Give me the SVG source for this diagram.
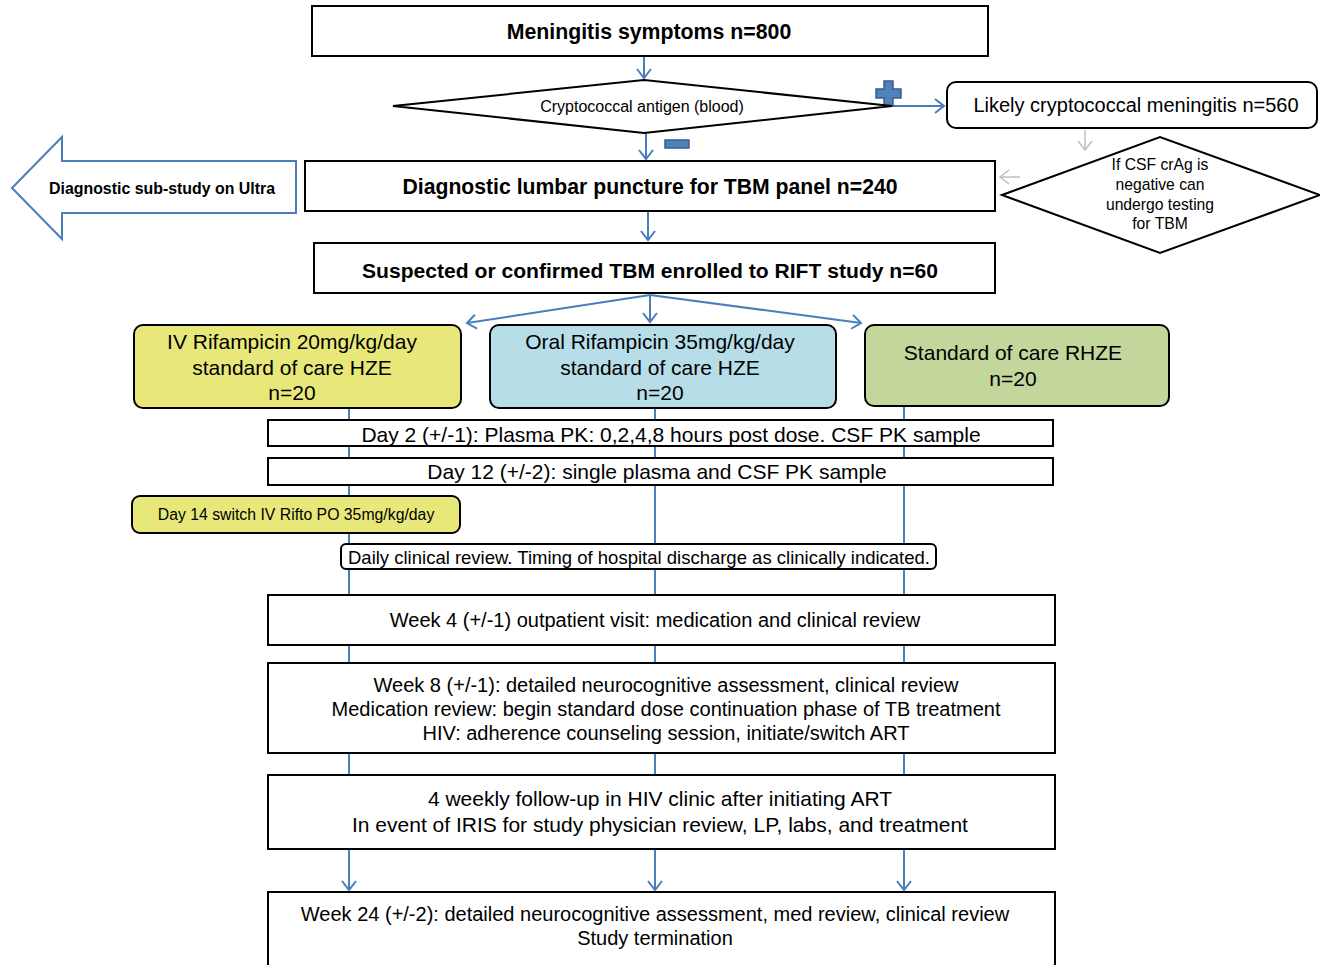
<svg xmlns="http://www.w3.org/2000/svg" width="1320" height="965" viewBox="0 0 1320 965">
<style>
.box{fill:#fff;stroke:#000;stroke-width:2}
.t{font-family:"Liberation Sans",Arial,sans-serif;fill:#000;text-anchor:middle;dominant-baseline:central}
.b{font-weight:bold}
.c{stroke:#4a7ebb;stroke-width:2;fill:none}
.g{stroke:#bfbfbf;stroke-width:1.5;fill:none}
</style>
<defs>
<marker id="ah" markerWidth="16" markerHeight="16" refX="10" refY="8" orient="auto" markerUnits="userSpaceOnUse"><path d="M1,1 L10,8 L1,15" fill="none" stroke="#4a7ebb" stroke-width="2"/></marker>
<marker id="ag" markerWidth="16" markerHeight="16" refX="10" refY="8" orient="auto" markerUnits="userSpaceOnUse"><path d="M1,1 L10,8 L1,15" fill="none" stroke="#bfbfbf" stroke-width="1.5"/></marker>
</defs>
<rect width="1320" height="965" fill="#fff"/>
<g id="connectors">
<line class="c" x1="644" y1="56" x2="644" y2="78" marker-end="url(#ah)"/>
<line class="c" x1="892" y1="106" x2="944" y2="106" marker-end="url(#ah)"/>
<line class="c" x1="646" y1="133" x2="646" y2="159" marker-end="url(#ah)"/>
<line class="g" x1="1085" y1="130" x2="1085" y2="150" marker-end="url(#ag)"/>
<line class="g" x1="1020" y1="177" x2="1000" y2="177" marker-end="url(#ag)"/>
<line class="c" x1="648" y1="212" x2="648" y2="240" marker-end="url(#ah)"/>
<line class="c" x1="650" y1="295" x2="467" y2="323" marker-end="url(#ah)"/>
<line class="c" x1="650" y1="295" x2="650" y2="322" marker-end="url(#ah)"/>
<line class="c" x1="650" y1="295" x2="861" y2="323" marker-end="url(#ah)"/>
<line class="c" x1="349" y1="408" x2="349" y2="890" marker-end="url(#ah)"/>
<line class="c" x1="655" y1="408" x2="655" y2="890" marker-end="url(#ah)"/>
<line class="c" x1="904" y1="406" x2="904" y2="890" marker-end="url(#ah)"/>
<path d="M884,81 h9 v8 h8 v9 h-8 v8 h-9 v-8 h-8 v-9 h8 z" fill="#4f81bd" stroke="#385d8a" stroke-width="1.5"/>
<rect x="665" y="140" width="24" height="8" fill="#4f81bd" stroke="#385d8a" stroke-width="1.5"/>
</g>
<g id="n-symptoms"><rect class="box" x="312" y="6" width="676" height="50"/><text class="t b" x="649" y="32" font-size="21.3">Meningitis symptoms n=800</text></g>
<g id="n-crag"><polygon points="393,106 644,80 892,106 644,133" fill="#fff" stroke="#000" stroke-width="2"/><text class="t" x="642" y="106" font-size="16">Cryptococcal antigen (blood)</text></g>
<g id="n-likely"><rect class="box" x="947" y="82" width="370" height="46" rx="9"/><text class="t" x="1136" y="105" font-size="20">Likely cryptococcal meningitis n=560</text></g>
<g id="n-csf"><polygon points="1002,195 1160,137 1320,195 1160,253" fill="#fff" stroke="#000" stroke-width="2"/>
<text class="t" font-size="15.7" x="1160" y="164">If CSF crAg is</text>
<text class="t" font-size="15.7" x="1160" y="184">negative can</text>
<text class="t" font-size="15.7" x="1160" y="204">undergo testing</text>
<text class="t" font-size="15.7" x="1160" y="223">for TBM</text></g>
<g id="n-substudy"><polygon points="12,188 62,137 62,161 296,161 296,213 62,213 62,239" fill="#fff" stroke="#4a7ebb" stroke-width="2"/><text class="t b" x="162" y="188" font-size="15.9">Diagnostic sub-study on Ultra</text></g>
<g id="n-lp"><rect class="box" x="305" y="161" width="690" height="50"/><text class="t b" x="650" y="186" font-size="21.2">Diagnostic lumbar puncture for TBM panel n=240</text></g>
<g id="n-rift"><rect class="box" x="314" y="243" width="681" height="50"/><text class="t b" x="650" y="270" font-size="21.1">Suspected or confirmed TBM enrolled to RIFT study n=60</text></g>
<g id="n-iv"><rect x="134" y="325" width="327" height="83" rx="9" fill="#e8e87a" stroke="#000" stroke-width="2"/>
<text class="t" font-size="21" x="292" y="341">IV Rifampicin 20mg/kg/day</text>
<text class="t" font-size="21" x="292" y="367">standard of care HZE</text>
<text class="t" font-size="21" x="292" y="392">n=20</text></g>
<g id="n-oral"><rect x="490" y="325" width="346" height="83" rx="9" fill="#b6dde8" stroke="#000" stroke-width="2"/>
<text class="t" font-size="21" x="660" y="341">Oral Rifampicin 35mg/kg/day</text>
<text class="t" font-size="21" x="660" y="367">standard of care HZE</text>
<text class="t" font-size="21" x="660" y="392">n=20</text></g>
<g id="n-soc"><rect x="865" y="325" width="304" height="81" rx="9" fill="#c3d69b" stroke="#000" stroke-width="2"/>
<text class="t" font-size="21" x="1013" y="352">Standard of care RHZE</text>
<text class="t" font-size="21" x="1013" y="378">n=20</text></g>
<g id="n-day2"><rect class="box" x="268" y="420" width="785" height="26"/><text class="t" font-size="21" x="671" y="434">Day 2 (+/-1): Plasma PK: 0,2,4,8 hours post dose. CSF PK sample</text></g>
<g id="n-day12"><rect class="box" x="268" y="458" width="785" height="27"/><text class="t" font-size="21" x="657" y="471">Day 12 (+/-2): single plasma and CSF PK sample</text></g>
<g id="n-day14"><rect x="132" y="496" width="328" height="37" rx="8" fill="#e8e87a" stroke="#000" stroke-width="2"/><text class="t" font-size="15.8" x="296" y="514">Day 14 switch IV Rifto PO 35mg/kg/day</text></g>
<g id="n-daily"><rect class="box" x="341" y="544" width="595" height="25" rx="5"/><text class="t" font-size="18.5" x="639" y="557">Daily clinical review. Timing of hospital discharge as clinically indicated.</text></g>
<g id="n-week4"><rect class="box" x="268" y="595" width="787" height="50"/><text class="t" font-size="20" x="655" y="620">Week 4 (+/-1) outpatient visit: medication and clinical review</text></g>
<g id="n-week8"><rect class="box" x="268" y="663" width="787" height="90"/>
<text class="t" font-size="20" x="666" y="685">Week 8 (+/-1): detailed neurocognitive assessment, clinical review</text>
<text class="t" font-size="20" x="666" y="709">Medication review: begin standard dose continuation phase of TB treatment</text>
<text class="t" font-size="20" x="666" y="733">HIV: adherence counseling session, initiate/switch ART</text></g>
<g id="n-4weekly"><rect class="box" x="268" y="775" width="787" height="74"/>
<text class="t" font-size="21" x="660" y="798">4 weekly follow-up in HIV clinic after initiating ART</text>
<text class="t" font-size="21" x="660" y="824">In event of IRIS for study physician review, LP, labs, and treatment</text></g>
<g id="n-week24"><rect class="box" x="268" y="892" width="787" height="80"/>
<text class="t" font-size="20" x="655" y="914">Week 24 (+/-2): detailed neurocognitive assessment, med review, clinical review</text>
<text class="t" font-size="20" x="655" y="938">Study termination</text></g>
</svg>
